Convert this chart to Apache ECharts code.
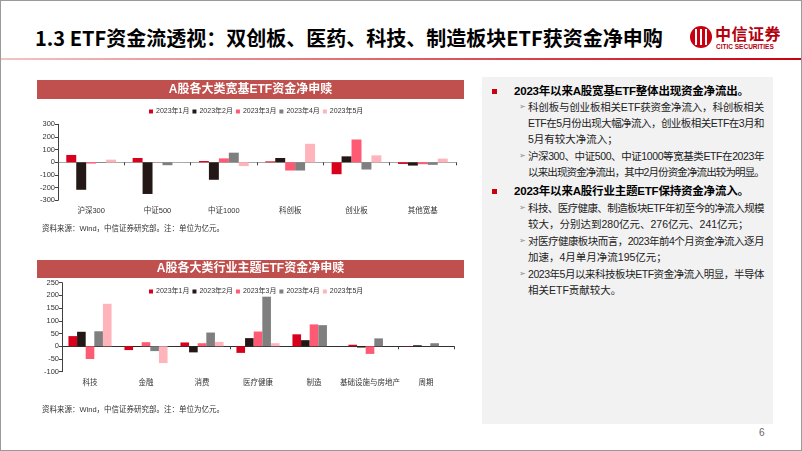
<!DOCTYPE html>
<html>
<head>
<meta charset="utf-8">
<script src="https://cdn.jsdelivr.net/npm/echarts@6/dist/echarts.min.js"></script>
<style>
  html, body { margin: 0; padding: 0; background: #fff; }
  #slide { position: relative; width: 802px; height: 451px; overflow: hidden; box-sizing: border-box; border: 1px solid #9a9a9a; font-family: "Liberation Sans", "Noto Sans CJK SC", sans-serif; }
  #chart { position: absolute; left: 0; top: 0; width: 470px; height: 451px; }
  .title { position: absolute; left: 34px; top: 24px; font-size: 20px; font-weight: bold; color: #000; font-family: "Noto Sans CJK SC", sans-serif; letter-spacing: 0px; white-space: nowrap; line-height: 26px; }
  .hline { position: absolute; left: 0; top: 57px; width: 802px; height: 2px; background: linear-gradient(to right, #f2c4c4, #c8000f); }
  .logo-c { position: absolute; left: 689px; top: 25px; width: 22px; height: 22px; border-radius: 50%; background: #c8000f; overflow: hidden; }
  .logo-c i { position: absolute; top: 3px; width: 2px; height: 16px; background: #fff; }
  .logo-t1 { position: absolute; left: 714px; top: 22px; font-size: 16px; font-weight: bold; color: #b5000d; font-family: "Noto Sans CJK SC", sans-serif; line-height: 20px; letter-spacing: 0.5px; white-space: nowrap; }
  .logo-t2 { position: absolute; left: 715px; top: 42px; font-size: 6.5px; color: #b5000d; line-height: 8px; white-space: nowrap; font-weight: bold; }
  .panel { position: absolute; left: 481px; top: 76px; width: 291px; height: 347px; background: #f2f2f2; }
  .sq { position: absolute; width: 5px; height: 5px; background: #c8000f; }
  .hd { position: absolute; left: 513px; font-size: 11.5px; letter-spacing: -0.2px; font-weight: bold; color: #000; white-space: nowrap; line-height: 16px; font-family: "Liberation Sans", "Noto Sans CJK SC", sans-serif; }
  .ar { position: absolute; left: 518px; font-size: 7.5px; color: #8a8a8a; line-height: 16px; }
  .ln { position: absolute; left: 527px; font-size: 10.5px; color: #222; line-height: 16px; white-space: nowrap; font-family: "Liberation Sans", "Noto Sans CJK SC", sans-serif; }
  .pg { position: absolute; left: 758px; top: 426px; font-size: 10px; color: #666; }
</style>
</head>
<body>
<div id="slide">
  <div class="title">1.3 ETF资金流透视：双创板、医药、科技、制造板块ETF获资金净申购</div>
  <div class="hline"></div>
  <div class="logo-c"><i style="left:5px"></i><i style="left:10px"></i><i style="left:15px"></i></div>
  <div class="logo-t1">中信证券</div>
  <div class="logo-t2">CITIC SECURITIES</div>
  <div class="panel"></div>
  <div id="chart"></div>

  <div class="sq" style="left:491px; top:88px;"></div>
  <div class="hd" style="top:82px;">2023年以来A股宽基ETF整体出现资金净流出。</div>
  <div class="ar" style="top:98px;">➢</div>
  <div class="ln j" style="top:98px;">科创板与创业板相关ETF获资金净流入，科创板相关</div>
  <div class="ln j" style="top:114px;">ETF在5月份出现大幅净流入，创业板相关ETF在3月和</div>
  <div class="ln" style="top:130px;">5月有较大净流入；</div>
  <div class="ar" style="top:147px;">➢</div>
  <div class="ln j" style="top:147px;">沪深300、中证500、中证1000等宽基类ETF在2023年</div>
  <div class="ln j" style="top:163px;">以来出现资金净流出，其中2月份资金净流出较为明显。</div>

  <div class="sq" style="left:491px; top:188px;"></div>
  <div class="hd" style="top:182px;">2023年以来A股行业主题ETF保持资金净流入。</div>
  <div class="ar" style="top:199px;">➢</div>
  <div class="ln j" style="top:199px;">科技、医疗健康、制造板块ETF年初至今的净流入规模</div>
  <div class="ln" style="top:215px;">较大，分别达到280亿元、276亿元、241亿元；</div>
  <div class="ar" style="top:232px;">➢</div>
  <div class="ln j" style="top:232px;">对医疗健康板块而言，2023年前4个月资金净流入逐月</div>
  <div class="ln" style="top:248px;">加速，4月单月净流195亿元；</div>
  <div class="ar" style="top:265px;">➢</div>
  <div class="ln j" style="top:265px;">2023年5月以来科技板块ETF资金净流入明显，半导体</div>
  <div class="ln" style="top:281px;">相关ETF贡献较大。</div>

  <div class="pg">6</div>
</div>
<script>
// ---- data ----
const months = ['2023年1月', '2023年2月', '2023年3月', '2023年4月', '2023年5月'];

const broadCats = ['沪深300', '中证500', '中证1000', '科创板', '创业板', '其他宽基'];
const broadJan = [58, 34, 10, 7, -94, -13];
const broadFeb = [-217, -250, -138, 34, 47, -26];
const broadMar = [-10, -2, 31, -65, 180, -15];
const broadApr = [-5, -23, 76, -65, -57, -20];
const broadMay = [21, -1, -30, 146, 55, 29];
const broadTicks = [-300, 300, 100];

const indCats = ['科技', '金融', '消费', '医疗健康', '制造', '基础设施与房地产', '周期'];
const indJan = [40, -15, 15, -26, 47, 6, 1];
const indFeb = [57, -2, -24, 32, 24, -5, 4];
const indMar = [-50, 16, 12, 58, 86, -30, 0];
const indApr = [59, -19, 54, 195, 83, 31, 12];
const indMay = [167, -66, 17, 12, 0, 0, 0];
const indTicks = [-100, 250, 50];

const sourceText = '资料来源：Wind，中信证券研究部。注：单位为亿元。';
const title1 = 'A股各大类宽基ETF资金净申赎';
const title2 = 'A股各大类行业主题ETF资金净申赎';

// justify the full-width lines of the commentary panel
const LINE_W = 236;
document.querySelectorAll('.ln.j').forEach(el => {
  const n = Array.from(el.textContent).length;
  const w = el.getBoundingClientRect().width;
  el.style.letterSpacing = ((LINE_W - w) / n).toFixed(3) + 'px';
});

// ---- styles ----
const colors = ['#d9001b', '#231816', '#ff5a73', '#7f7f7f', '#ffb4bb'];
const FF = "'Liberation Sans','Noto Sans CJK SC',sans-serif";

const chart = echarts.init(document.getElementById('chart'), null, { renderer: 'canvas' });

function yAxis(gi, t) {
  return {
    gridIndex: gi, type: 'value', min: t[0], max: t[1], interval: t[2],
    axisLine: { show: true, lineStyle: { color: '#404040', width: 1 } },
    axisTick: { show: true, length: 3, lineStyle: { color: '#404040' } },
    splitLine: { show: false },
    axisLabel: { fontSize: 7.5, color: '#333', margin: 3, fontFamily: FF }
  };
}
function xAxes(gi, cats, lineColor) {
  return [
    { gridIndex: gi, type: 'category', data: cats, position: 'bottom',
      axisLine: { onZero: true, lineStyle: { color: lineColor, width: 1 } },
      axisTick: { show: true, length: 3, lineStyle: { color: '#404040' } },
      axisLabel: { show: false } },
    { gridIndex: gi, type: 'category', data: cats, position: 'bottom',
      axisLine: { show: false, onZero: false }, axisTick: { show: false },
      axisLabel: { fontSize: 7.5, color: '#333', margin: 7, fontFamily: FF, interval: 0 } }
  ];
}
function bars(gi, arrs, catGap) {
  return arrs.map((d, i) => ({
    name: months[i], type: 'bar', xAxisIndex: gi * 2, yAxisIndex: gi, data: d,
    itemStyle: { color: colors[i] }, barGap: '0%', barCategoryGap: catGap,
    emphasis: { disabled: true }
  }));
}
function legend(top) {
  return {
    data: months, left: 143, top: top, itemWidth: 4, itemHeight: 4, itemGap: 3, icon: 'rect',
    textStyle: { fontSize: 7, color: '#333', fontFamily: FF, padding: [0, 0, 0, -2] }
  };
}

chart.setOption({
  animation: false,
  grid: [
    { left: 57, top: 123.3, width: 398, height: 76 },
    { left: 61, top: 281.7, width: 392, height: 89 }
  ],
  legend: [legend(102), legend(282)],
  xAxis: xAxes(0, broadCats, '#a6a6a6').concat(xAxes(1, indCats, '#303030')),
  yAxis: [yAxis(0, broadTicks), yAxis(1, indTicks)],
  series: bars(0, [broadJan, broadFeb, broadMar, broadApr, broadMay], '25%')
    .concat(bars(1, [indJan, indFeb, indMar, indApr, indMay], '23%')),
  graphic: [
    { type: 'rect', shape: { x: 36, y: 79, width: 427, height: 19 }, style: { fill: '#c0504d' }, z: 0 },
    { type: 'text', x: 249.5, y: 88.5, style: { text: title1, fill: '#fff', fontSize: 12, fontWeight: 'bold', fontFamily: FF, align: 'center', verticalAlign: 'middle' } },
    { type: 'rect', shape: { x: 36, y: 259, width: 427, height: 18 }, style: { fill: '#c0504d' }, z: 0 },
    { type: 'text', x: 249.5, y: 268, style: { text: title2, fill: '#fff', fontSize: 12, fontWeight: 'bold', fontFamily: FF, align: 'center', verticalAlign: 'middle' } },
    { type: 'text', x: 41, y: 228, style: { text: sourceText, fill: '#333', fontSize: 7.5, fontFamily: FF, verticalAlign: 'middle' } },
    { type: 'text', x: 41, y: 409, style: { text: sourceText, fill: '#333', fontSize: 7.5, fontFamily: FF, verticalAlign: 'middle' } }
  ]
});
</script>
</body>
</html>
